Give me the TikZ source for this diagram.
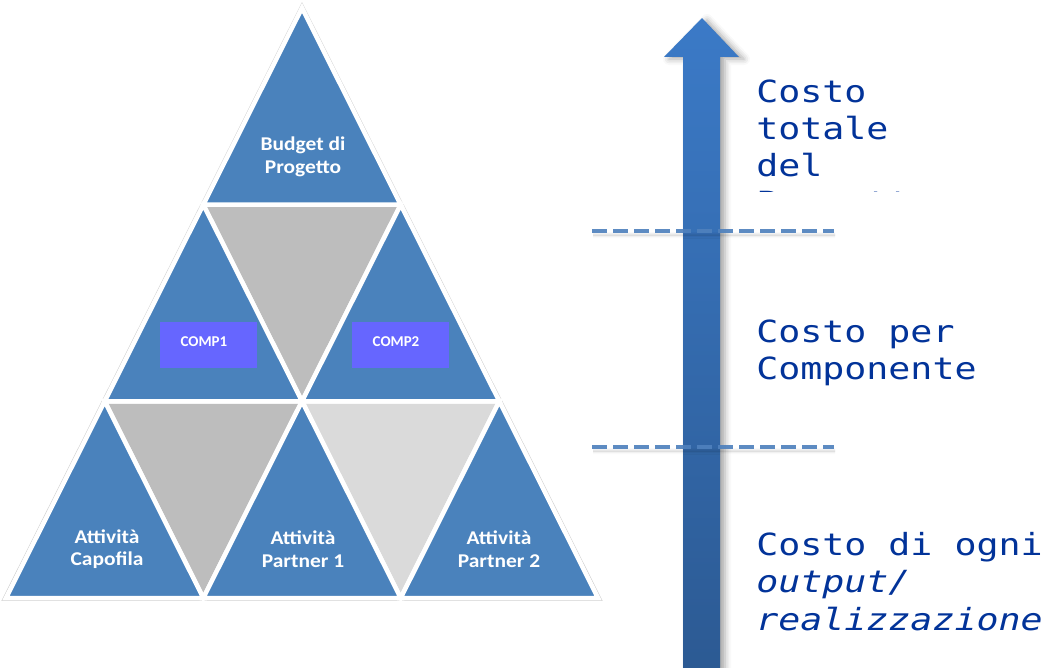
\documentclass[tikz,border=0pt]{standalone}
\usepackage{fontspec}
\setsansfont{Carlito}
\newfontfamily\monof{DejaVu Sans Mono}
\usetikzlibrary{shadows.blur}
\definecolor{pblue}{HTML}{4A82BC}
\definecolor{gdark}{HTML}{BDBDBD}
\definecolor{glight}{HTML}{DADADA}
\definecolor{cbox}{HTML}{6666FF}
\definecolor{tblue}{HTML}{023399}
\definecolor{arrtop}{HTML}{3B7AC7}
\definecolor{arrbot}{HTML}{2C5A93}
\definecolor{dashc}{HTML}{4F81BD}
\begin{document}
\begin{tikzpicture}[x=1pt,y=-1pt,
  piece/.style={draw=white, line width=4.5pt, line join=miter},
  uppiece/.style={piece, fill=pblue},
  ptext/.style={text=white, font=\sffamily\bfseries\fontsize{19.5}{22.5}\selectfont, align=center, inner sep=0pt, xscale=1.1},
  compbox/.style={fill=cbox, minimum width=97pt, minimum height=46pt, inner sep=0pt},
  comptext/.style={text=white, font=\sffamily\bfseries\fontsize{15}{17}\selectfont, inner sep=0pt},
  rtext/.style={text=tblue, font=\monof\fontsize{30.5}{36}\selectfont, anchor=base west, inner sep=0pt, xscale=1.2},
  sepline/.style={draw=dashc, line width=4pt, dash pattern=on 15pt off 6pt, opacity=0.92,
     blur shadow={shadow xshift=1pt, shadow yshift=-4pt, shadow blur radius=3pt, shadow opacity=25}}
]
\useasboundingbox (0,0) rectangle (1056,668);

% grid points
\coordinate (p00) at (302,8);
\coordinate (p10) at (203.3,204.7);
\coordinate (p11) at (400.7,204.7);
\coordinate (p20) at (104.7,401.3);
\coordinate (p21) at (302,401.3);
\coordinate (p22) at (499.3,401.3);
\coordinate (p30) at (6,598);
\coordinate (p31) at (203.3,598);
\coordinate (p32) at (400.7,598);
\coordinate (p33) at (598,598);

% faint outline
\draw[black!18, line width=0.8pt] (302,3) -- (2,600.5) -- (602,600.5) -- cycle;

% down (gray) pieces
\path[piece, fill=gdark] (p10) -- (p11) -- (p21) -- cycle;
\path[piece, fill=gdark] (p20) -- (p21) -- (p31) -- cycle;
\path[piece, fill=glight] (p21) -- (p22) -- (p32) -- cycle;
% up (blue) pieces
\path[uppiece] (p00) -- (p10) -- (p11) -- cycle;
\path[uppiece] (p10) -- (p20) -- (p21) -- cycle;
\path[uppiece] (p11) -- (p21) -- (p22) -- cycle;
\path[uppiece] (p20) -- (p30) -- (p31) -- cycle;
\path[uppiece] (p21) -- (p31) -- (p32) -- cycle;
\path[uppiece] (p22) -- (p32) -- (p33) -- cycle;

% labels
\node[ptext] (budget) at (303,157) {Budget di\\Progetto};
\node[ptext] (capo) at (107,549) {Attività\\Capofila};
\node[ptext] (par1) at (303,549) {Attività\\Partner 1};
\node[ptext] (par2) at (499,549) {Attività\\Partner 2};

\node[compbox] (c1) at (208.5,345) {};
\node[comptext] (c1t) at (204,342) {COMP1};
\node[compbox] (c2) at (400.5,345) {};
\node[comptext] (c2t) at (396,342) {COMP2};

% arrow
\path[top color=arrtop, bottom color=arrbot,
  blur shadow={shadow xshift=5pt, shadow yshift=-2pt, shadow blur radius=6pt, shadow opacity=35}]
  (683,670) -- (683,57) -- (664,57) -- (702,18) -- (739,57) -- (720,57) -- (720,670) -- cycle;

% dashed separators
\coordinate (d1a) at (592,231);
\coordinate (d1b) at (834,231);
\coordinate (d2a) at (592,447);
\coordinate (d2b) at (834,447);
\draw[sepline] (d1a) -- (d1b);
\draw[sepline] (d2a) -- (d2b);

% right texts
\node[rtext] (t1) at (756,103) {Costo};
\node[rtext] (t2) at (756,140) {totale};
\node[rtext] (t3) at (756,177) {del};
\begin{scope}
  \clip (740,150) rectangle (1056,192);
  \node[rtext] (t4) at (756,214) {Progetto};
\end{scope}
\node[rtext] (m1) at (756,342.5) {Costo per};
\node[rtext] (m2) at (756,379.5) {Componente};
\node[rtext] (b1) at (756,555) {Costo di ogni};
\node[rtext, font=\monof\itshape\fontsize{30.5}{36}\selectfont] (b2) at (756,592.5) {output/};
\node[rtext, font=\monof\itshape\fontsize{30.5}{36}\selectfont] (b3) at (756,630) {realizzazione};
\end{tikzpicture}
\end{document}
